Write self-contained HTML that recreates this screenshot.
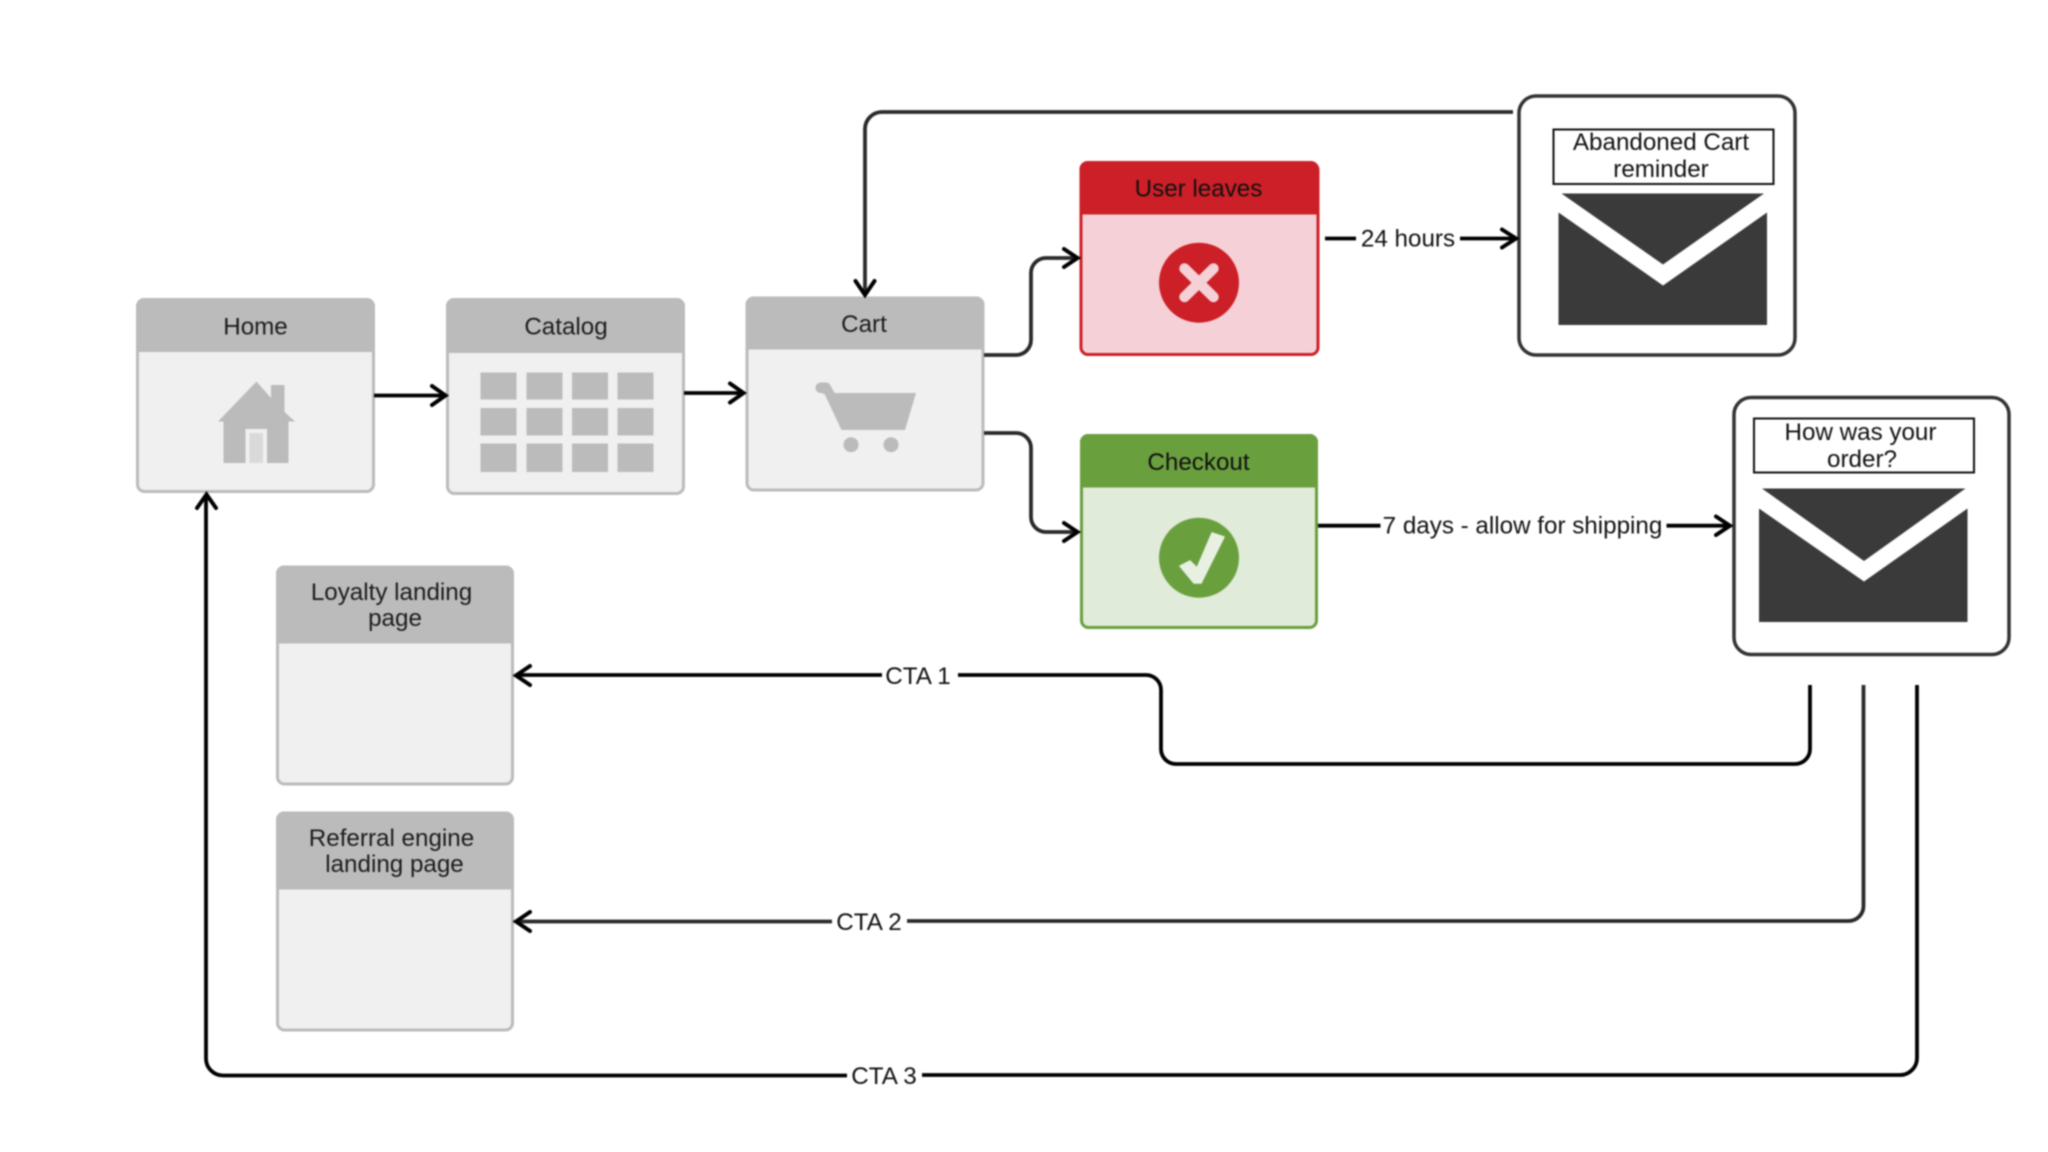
<!DOCTYPE html>
<html>
<head>
<meta charset="utf-8">
<style>
html,body{margin:0;padding:0;background:#fff;width:2048px;height:1152px;overflow:hidden}
svg{display:block;filter:blur(0.7px)}
text{font-family:"Liberation Sans",sans-serif;font-size:24.2px;fill:#1c1c1c;text-anchor:middle}
.c{fill:none;stroke:#000;stroke-width:3.8;stroke-linejoin:round}
.g{stroke:#2a2a2a}
.a{fill:none;stroke:#000;stroke-width:4;stroke-linecap:round;stroke-linejoin:miter}
.box{fill:#f0f0f0;stroke:#bbb;stroke-width:3}
.hd{fill:#bbb}
.ic{fill:#bbb}
.mail{fill:#fff;stroke:#333;stroke-width:3.5}
.title{fill:#fff;stroke:#111;stroke-width:2}
.env{fill:#3a3a3a}
</style>
</head>
<body>
<svg width="2048" height="1152" viewBox="0 0 2048 1152" xmlns="http://www.w3.org/2000/svg">
<rect width="2048" height="1152" fill="#fff"/>

<!-- Home -->
<rect class="box" x="137.500" y="299.500" width="236" height="192" rx="7"/>
<path class="hd" d="M136 352V306a8 8 0 0 1 8-8H367a8 8 0 0 1 8 8V352Z"/>
<text x="255.500" y="334.500">Home</text>
<path class="ic" d="M256.500 381.500L271 398V385H284.500V412L295 421.500H288.500V463H223.500V421.500H218Z"/>
<rect x="245.500" y="429" width="21.500" height="34" fill="#f0f0f0"/>
<rect x="249.500" y="433" width="13.500" height="30" fill="#d9d9d9"/>

<!-- Catalog -->
<rect class="box" x="447.500" y="299.500" width="236" height="194" rx="7"/>
<path class="hd" d="M446 353V306a8 8 0 0 1 8-8H677a8 8 0 0 1 8 8V353Z"/>
<text x="566" y="334.500">Catalog</text>
<g class="ic">
<rect x="480.500" y="372.500" width="36" height="27"/><rect x="526.500" y="372.500" width="36" height="27"/><rect x="572" y="372.500" width="36" height="27"/><rect x="617.500" y="372.500" width="36" height="27"/>
<rect x="480.500" y="408" width="36" height="27.500"/><rect x="526.500" y="408" width="36" height="27.500"/><rect x="572" y="408" width="36" height="27.500"/><rect x="617.500" y="408" width="36" height="27.500"/>
<rect x="480.500" y="443.500" width="36" height="28.500"/><rect x="526.500" y="443.500" width="36" height="28.500"/><rect x="572" y="443.500" width="36" height="28.500"/><rect x="617.500" y="443.500" width="36" height="28.500"/>
</g>

<!-- Cart -->
<rect class="box" x="747" y="298" width="236" height="192" rx="7"/>
<path class="hd" d="M745.500 349.500V304.500a8 8 0 0 1 8-8H976.500a8 8 0 0 1 8 8V349.500Z"/>
<text x="864" y="332">Cart</text>
<path class="ic" d="M820 382.500H826Q829 382.500 830.500 385.500L834.500 393H916L905 430H841.500L824.500 394Q822.500 393 820 393A5.300 5.300 0 0 1 820 382.500Z"/>
<circle class="ic" cx="851" cy="444.700" r="7.500"/>
<circle class="ic" cx="891" cy="444.700" r="7.500"/>

<!-- User leaves -->
<rect x="1081" y="163" width="237" height="191.500" rx="7" fill="#f5d1d7" stroke="#cc1f27" stroke-width="3"/>
<path d="M1079.500 214.500V169a8 8 0 0 1 8-8H1311a8 8 0 0 1 8 8V214.500Z" fill="#cc1f27"/>
<text x="1198.500" y="196.500" style="fill:#111">User leaves</text>
<circle cx="1199" cy="282.700" r="40" fill="#cc1f27"/>
<path d="M1184.500 268.500L1213.500 297M1213.500 268.500L1184.500 297" stroke="#f5d1d7" stroke-width="10.500" stroke-linecap="round" fill="none"/>

<!-- Checkout -->
<rect x="1081.500" y="435.500" width="235" height="192" rx="7" fill="#e0ebd9" stroke="#6a9f3e" stroke-width="3"/>
<path d="M1080 487.500V442a8 8 0 0 1 8-8H1310a8 8 0 0 1 8 8V487.500Z" fill="#6a9f3e"/>
<text x="1198.500" y="470" style="fill:#111">Checkout</text>
<circle cx="1199" cy="557.700" r="40" fill="#6a9f3e"/>
<path d="M1180 566L1190 561L1197 568L1212 533L1224 537L1201 583H1194Z" fill="#e8f0e2" stroke="#e8f0e2" stroke-width="1.500" stroke-linejoin="round"/>

<!-- Loyalty -->
<rect class="box" x="277.500" y="567" width="235" height="217" rx="7"/>
<path class="hd" d="M276 643.500V573.500a8 8 0 0 1 8-8H506a8 8 0 0 1 8 8V643.500Z"/>
<text x="391.500" y="600">Loyalty landing</text>
<text x="395" y="626">page</text>

<!-- Referral -->
<rect class="box" x="277.500" y="813" width="235" height="217" rx="7"/>
<path class="hd" d="M276 889.500V819.500a8 8 0 0 1 8-8H506a8 8 0 0 1 8 8V889.500Z"/>
<text x="391.500" y="846">Referral engine</text>
<text x="394.500" y="872">landing page</text>

<!-- Email 1 -->
<rect class="mail" x="1519" y="96" width="276" height="259" rx="17"/>
<rect class="title" x="1553.500" y="129.500" width="220" height="54.500"/>
<text x="1661" y="150" style="fill:#111">Abandoned Cart</text>
<text x="1661" y="177" style="fill:#111">reminder</text>
<path class="env" d="M1561.500 193.500H1764L1663 264.500Z"/>
<path class="env" d="M1558.500 212.500L1663 285.500L1767 212.500V325H1558.500Z"/>

<!-- Email 2 -->
<rect class="mail" x="1734" y="397.500" width="275" height="257" rx="17"/>
<rect class="title" x="1754" y="418.500" width="220" height="54"/>
<text x="1860.500" y="440" style="fill:#111">How was your</text>
<text x="1862" y="467" style="fill:#111">order?</text>
<path class="env" d="M1762 488.500H1965.500L1864 561Z"/>
<path class="env" d="M1759 508.500L1864 581.500L1967.500 508.500V622H1759Z"/>

<!-- Connectors -->
<path class="c" d="M374 395.500H446"/>
<path class="a" d="M432 386L445.500 395.500L432 405"/>
<path class="c" d="M684 393H744"/>
<path class="a" d="M730 383.500L743.500 393L730 402.500"/>

<path class="c g" d="M1513 112H882a17 17 0 0 0-17 17V295"/>
<path class="a" d="M855.500 281L865 295L874.500 281"/>

<path class="c g" d="M984 355H1016a15 15 0 0 0 15-15V273a15 15 0 0 1 15-15H1078"/>
<path class="a" d="M1064 249L1077.500 258L1064 267"/>

<path class="c g" d="M984 433H1016a15 15 0 0 1 15 15V517a15 15 0 0 0 15 15H1078"/>
<path class="a" d="M1064 523L1077.500 532L1064 541"/>

<path class="c" d="M1325 238.500H1356M1460 238.500H1516"/>
<path class="a" d="M1502 229.500L1516 238.500L1502 247.500"/>
<text x="1408" y="246.500" style="fill:#111">24 hours</text>

<path class="c" d="M1318 525.700H1380.500M1666.500 525.700H1730"/>
<path class="a" d="M1716 516.500L1730 525.700L1716 535"/>
<text x="1522.500" y="533.500" style="fill:#111">7 days - allow for shipping</text>

<path class="c" d="M1810 685V749a15 15 0 0 1-15 15H1176a15 15 0 0 1-15-15V690a15 15 0 0 0-15-15H958M882 675H517"/>
<path class="a" d="M530 666L516 675.500L530 685"/>
<text x="918" y="684" style="fill:#111">CTA 1</text>

<path class="c g" d="M1863.500 685V906a15 15 0 0 1-15 15H907M832 921.500H517"/>
<path class="a" d="M530 912L516 921.500L530 931"/>
<text x="869" y="930" style="fill:#111">CTA 2</text>

<path class="c" d="M1917 685V1058a17 17 0 0 1-17 17H922M847 1075.500H223a17 17 0 0 1-17-17V495"/>
<path class="a" d="M197 508L206.500 494.500L216 508"/>
<text x="884" y="1084" style="fill:#111">CTA 3</text>
</svg>
</body>
</html>
